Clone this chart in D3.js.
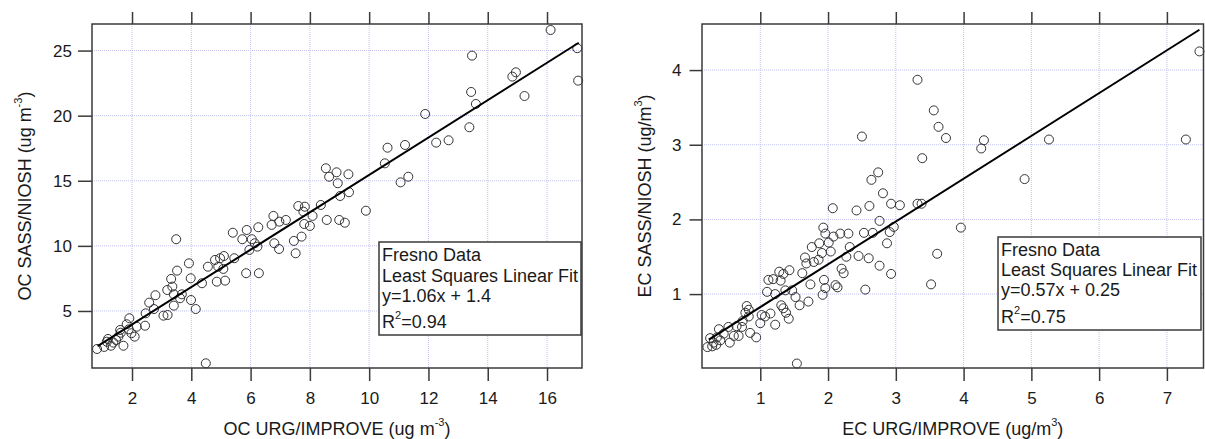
<!DOCTYPE html>
<html><head><meta charset="utf-8">
<script src="https://cdn.jsdelivr.net/npm/d3@7"></script>
<style>
html,body{margin:0;padding:0;background:#fff;}
svg{display:block;font-family:"Liberation Sans",Arial,sans-serif;}
</style></head>
<body><svg id="c" width="1205" height="439"></svg>
<script>
// ---- data ----
const ocUrg = [0.82,1.06,1.15,1.29,1.37,1.46,1.54,1.62,1.60,1.71,
  1.82,1.91,1.98,2.09,2.16,2.44,2.46,2.58,2.79,2.74,
  3.06,3.20,3.19,3.32,3.36,3.41,3.41,3.49,3.52,3.62,
  3.68,3.92,3.98,3.99,4.15,4.36,4.49,4.56,4.80,4.86,
  4.91,4.97,5.10,5.14,5.08,5.40,5.45,5.72,5.87,5.85,
  5.96,6.04,6.26,6.28,6.23,6.71,6.77,6.96,6.80,6.97,
  7.19,7.46,7.52,7.61,7.72,7.83,7.81,8.00,8.09,8.37,
  8.54,8.65,8.57,8.90,8.94,9.02,9.30,9.32,8.99,9.18,
  9.89,10.53,10.62,11.21,11.06,11.32,11.89,12.26,12.68,13.38,
  13.44,13.47,13.60,14.83,14.95,15.24,16.12,17.02,17.05,
  1.19,1.89,7.78,6.14];
const ocSass = [2.08,2.24,2.64,2.33,2.57,2.77,3.03,3.33,3.54,2.33,
  3.98,4.44,3.29,3.03,3.79,3.87,4.82,5.64,6.21,5.15,
  4.64,4.69,6.61,7.46,6.87,6.28,5.41,10.51,8.10,5.98,
  6.28,8.66,7.51,5.84,5.15,7.13,0.98,8.40,8.92,7.25,
  8.40,9.05,9.22,7.33,8.23,11.01,9.05,10.51,11.22,7.90,
  9.69,10.51,11.43,7.90,9.94,11.61,12.30,9.76,10.20,11.86,
  11.99,10.38,9.43,13.06,10.71,13.01,11.68,11.53,12.30,13.14,
  15.96,15.31,11.99,15.65,14.81,13.83,15.50,14.12,11.99,11.78,
  12.70,16.34,17.54,17.75,14.88,15.31,20.13,17.93,18.11,19.11,
  21.82,24.61,20.90,23.00,23.33,21.51,26.58,25.18,22.69,
  2.85,3.59,12.63,10.20];
const ecUrg = [0.22,0.26,0.31,0.35,0.39,0.41,0.46,0.53,0.55,0.61,
  0.65,0.68,0.73,0.74,0.78,0.80,0.83,0.85,0.94,1.00,
  1.02,1.07,1.15,1.22,1.10,1.12,1.19,1.22,1.28,1.30,
  1.34,1.43,1.37,1.31,1.34,1.38,1.42,1.47,1.52,1.58,
  1.54,1.62,1.66,1.71,1.74,1.68,1.76,1.79,1.87,1.86,
  1.91,1.93,1.96,1.94,1.96,1.92,2.01,2.04,2.08,2.11,
  2.14,2.07,2.18,2.20,2.23,2.27,2.30,2.32,2.42,2.45,
  2.61,2.76,2.93,2.53,2.66,2.91,2.87,2.60,2.76,2.93,
  2.55,3.32,3.56,3.63,3.74,2.50,4.30,4.26,3.39,2.74,
  2.64,2.81,3.06,3.32,3.38,2.97,3.96,3.61,3.52,5.26,
  4.90,7.28,7.48,0.29,0.36,0.83];
const ecSass = [0.29,0.41,0.35,0.32,0.53,0.38,0.47,0.56,0.35,0.44,
  0.57,0.44,0.56,0.64,0.75,0.84,0.70,0.48,0.42,0.61,
  0.72,0.70,0.74,0.59,1.03,1.19,1.20,1.00,1.30,1.18,
  1.27,1.32,1.05,0.85,0.81,0.75,0.67,1.05,0.96,0.85,
  0.07,1.28,1.49,0.90,1.13,1.41,1.63,1.43,1.68,1.46,
  1.55,1.89,1.81,1.19,1.08,0.99,1.69,1.57,1.77,1.12,
  1.09,2.15,1.81,1.34,1.28,1.50,1.81,1.63,2.12,1.51,
  2.18,1.98,2.21,1.82,1.82,1.83,1.68,1.48,1.38,1.27,
  1.06,3.87,3.46,3.24,3.09,3.11,3.06,2.95,2.82,2.63,
  2.53,2.35,2.19,2.21,2.21,1.90,1.89,1.54,1.13,3.07,
  2.54,3.07,4.25,0.30,0.42,0.79];
// fitted line end points as drawn
const ocFitX = [0.84, 17.07], ocFitY = [2.30, 25.6];
const ecFitX = [0.24, 7.48], ecFitY = [0.39, 4.54];
// ticks
const ocXTicks = [2,4,6,8,10,12,14,16], ocYTicks = [5,10,15,20,25];
const ecXTicks = [1,2,3,4,5,6,7], ecYTicks = [1,2,3,4];
// legend texts
const ocLegend = ["Fresno Data","Least Squares Linear Fit","y=1.06x + 1.4","0.94"];
const ecLegend = ["Fresno Data","Least Squares Linear Fit","y=0.57x + 0.25","0.75"];

const svg = d3.select("#c");
const FRAME = "#3a3a3a", TXT = "#1a1a1a";

function panel(o){
  const x = d3.scaleLinear().domain(o.xd).range([o.l, o.r]);
  const y = d3.scaleLinear().domain(o.yd).range([o.b, o.t]);
  const g = svg.append("g");
  // grid
  g.append("g").selectAll("line").data(o.xt).join("line")
    .attr("x1", d=>x(d)).attr("x2", d=>x(d)).attr("y1", o.t).attr("y2", o.b)
    .attr("stroke","#c2c2ee").attr("stroke-width",1).attr("stroke-dasharray","1,1");
  g.append("g").selectAll("line").data(o.yt).join("line")
    .attr("y1", d=>y(d)).attr("y2", d=>y(d)).attr("x1", o.l).attr("x2", o.r)
    .attr("stroke","#c2c2ee").attr("stroke-width",1).attr("stroke-dasharray","1,1");
  // axes
  const ax = [
    g.append("g").attr("transform",`translate(0,${o.b})`)
      .call(d3.axisBottom(x).tickValues(o.xt).tickFormat(d3.format("d")).tickSize(13).tickPadding(11)),
    g.append("g").attr("transform",`translate(0,${o.t})`)
      .call(d3.axisTop(x).tickValues(o.xt).tickFormat("").tickSize(12)),
    g.append("g").attr("transform",`translate(${o.l},0)`)
      .call(d3.axisLeft(y).tickValues(o.yt).tickFormat(d3.format("d")).tickSize(o.ytl).tickPadding(o.ypad))
  ];
  ax.forEach(a=>{
    a.select(".domain").remove();
    a.selectAll(".tick line").attr("stroke",FRAME).attr("stroke-width",1.5);
    a.selectAll(".tick text").attr("fill",TXT).attr("font-size",17)
      .attr("font-family",'"Liberation Sans",Arial,sans-serif');
  });
  // points
  g.append("g").selectAll("circle").data(d3.range(o.xs.length)).join("circle")
    .attr("cx", i=>x(o.xs[i])).attr("cy", i=>y(o.ys[i])).attr("r",4.5)
    .attr("fill","none").attr("stroke","#333").attr("stroke-width",1);
  // fit line
  g.append("path").datum(d3.range(o.fx.length))
    .attr("d", d3.line().x(i=>x(o.fx[i])).y(i=>y(o.fy[i])))
    .attr("stroke","#000").attr("stroke-width",2).attr("fill","none");
  // frame
  g.append("rect").attr("x",o.l).attr("y",o.t).attr("width",o.r-o.l).attr("height",o.b-o.t)
    .attr("fill","none").attr("stroke",FRAME).attr("stroke-width",1.5);
  // legend
  const lg = o.lg;
  g.append("rect").attr("x",lg.x).attr("y",lg.y).attr("width",lg.w).attr("height",lg.h)
    .attr("fill","#fff").attr("stroke",FRAME).attr("stroke-width",1.5);
  const lt = g.append("g").attr("font-size",18).attr("fill",TXT);
  o.legend.slice(0,3).forEach((s,i)=>{
    lt.append("text").attr("x",lg.x+3).attr("y",lg.base[i]).text(s);
  });
  const r2 = lt.append("text").attr("x",lg.x+3).attr("y",lg.base[3]);
  r2.append("tspan").text("R");
  r2.append("tspan").attr("font-size",11).attr("dy",-9).text("2");
  r2.append("tspan").attr("dy",9).text("="+o.legend[3]);
  // x title
  const xt = g.append("text").attr("x",(o.l+o.r)/2).attr("y",435).attr("text-anchor","middle")
    .attr("font-size",18).attr("fill",TXT);
  xt.append("tspan").text(o.xtitle[0]);
  xt.append("tspan").attr("font-size",11).attr("dy",-9).text(o.xtitle[1]);
  xt.append("tspan").attr("dy",9).text(o.xtitle[2]);
  // y title
  const yt = g.append("text").attr("transform",`translate(${o.ytx},${(o.t+o.b)/2}) rotate(-90)`)
    .attr("text-anchor","middle").attr("font-size",18).attr("fill",TXT);
  yt.append("tspan").text(o.ytitle[0]);
  yt.append("tspan").attr("font-size",11).attr("dy",-9).text(o.ytitle[1]);
  yt.append("tspan").attr("dy",9).text(o.ytitle[2]);
}

panel({l:92, r:582, t:24, b:368, xd:[0.65,17.18], yd:[0.62,27.04],
  xt:ocXTicks, yt:ocYTicks, ytl:14, ypad:6,
  xs:ocUrg, ys:ocSass, fx:ocFitX, fy:ocFitY,
  lg:{x:379, y:242, w:202, h:93, base:[261,282,302,328]}, legend:ocLegend,
  xtitle:["OC URG/IMPROVE (ug m","-3",")"], ytitle:["OC SASS/NIOSH (ug m","-3",")"], ytx:31});

panel({l:702, r:1203.5, t:24, b:368, xd:[0.14,7.54], yd:[0.01,4.617],
  xt:ecXTicks, yt:ecYTicks, ytl:12.5, ypad:8,
  xs:ecUrg, ys:ecSass, fx:ecFitX, fy:ecFitY,
  lg:{x:998, y:237, w:203, h:93, base:[256,276,296,323]}, legend:ecLegend,
  xtitle:["EC URG/IMPROVE (ug/m","3",")"], ytitle:["EC SASS/NIOSH (ug/m","3",")"], ytx:651});
</script></body></html>
